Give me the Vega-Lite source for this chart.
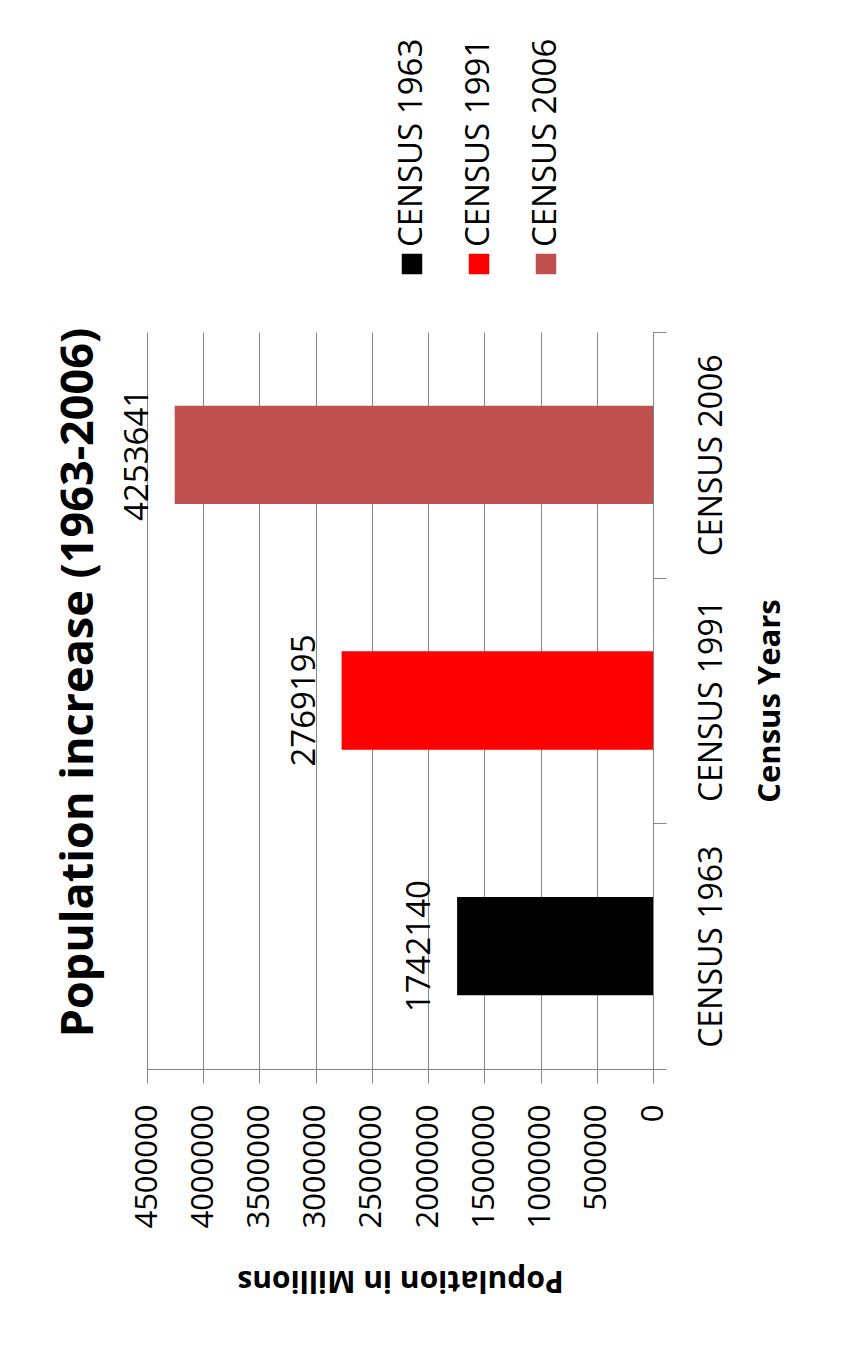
{
  "$schema": "https://vega.github.io/schema/vega-lite/v6.json",
  "padding": {"left": 56, "top": 38, "right": 5, "bottom": 5},
  "bounds": "flush",
  "spacing": 56,
  "background": "#ffffff",
  "config": {"font": "Open Sans", "view": {"stroke": null}},
  "datasets": {
    "census": [
      {"census": "CENSUS 1963", "population": 1742140},
      {"census": "CENSUS 1991", "population": 2769195},
      {"census": "CENSUS 2006", "population": 4253641}
    ]
  },
  "vconcat": [
    {
      "width": 506,
      "height": 24,
      "data": {"name": "census"},
      "encoding": {
        "x": {"field": "census", "type": "nominal", "scale": {"type": "point", "range": [265, 399], "padding": 0}, "axis": null}
      },
      "layer": [
        {
          "mark": {"type": "square", "size": 420, "opacity": 1, "filled": true},
          "encoding": {
            "color": {"field": "census", "type": "nominal", "scale": {"domain": ["CENSUS 1963", "CENSUS 1991", "CENSUS 2006"], "range": ["#000000", "#FF0000", "#C0504D"]}, "legend": null}
          }
        },
        {
          "mark": {"type": "text", "angle": 270, "align": "left", "baseline": "middle", "dx": 17, "fontSize": 33, "color": "#000000"},
          "encoding": {"text": {"field": "census", "type": "nominal"}}
        }
      ]
    },
    {
      "width": 506,
      "height": 737,
      "title": {"text": "Population increase (1963-2006)", "orient": "left", "anchor": "middle", "fontSize": 45, "fontWeight": "bold", "offset": 20, "color": "#000000", "dx": 18},
      "data": {"name": "census"},
      "encoding": {
        "y": {
          "field": "census", "type": "nominal",
          "sort": ["CENSUS 2006", "CENSUS 1991", "CENSUS 1963"],
          "scale": {"paddingInner": 0, "paddingOuter": 0},
          "axis": {
            "orient": "right", "title": "Census Years", "tickBand": "extent", "tickSize": 13,
            "labelAngle": 270, "labelAlign": "center", "labelBaseline": "top", "labelPadding": 30,
            "labelFontSize": 32, "labelColor": "#000000", "labelLimit": 400,
            "titleAngle": 270, "titleBaseline": "top", "titleFontSize": 31, "titleFontWeight": "bold",
            "titlePadding": 28, "titleColor": "#000000",
            "domainColor": "#868686", "tickColor": "#868686", "grid": false
          }
        },
        "x": {
          "field": "population", "type": "quantitative",
          "scale": {"domain": [0, 4500000], "reverse": true, "nice": false},
          "axis": {
            "orient": "bottom", "title": "Population in Millions",
            "values": [0, 500000, 1000000, 1500000, 2000000, 2500000, 3000000, 3500000, 4000000, 4500000],
            "format": "d", "grid": true, "gridColor": "#868686", "tickSize": 14,
            "tickColor": "#868686", "domainColor": "#868686",
            "labelAngle": 270, "labelAlign": "right", "labelBaseline": "middle", "labelPadding": 21,
            "labelFontSize": 31, "labelColor": "#000000", "labelFlush": false, "labelOverlap": false,
            "titleAngle": 180, "titleBaseline": "bottom", "titleFontSize": 30, "titleFontWeight": "bold",
            "titlePadding": 36, "titleColor": "#000000"
          }
        }
      },
      "layer": [
        {
          "mark": {"type": "bar", "height": {"band": 0.4}},
          "encoding": {
            "color": {"field": "census", "type": "nominal", "scale": {"domain": ["CENSUS 1963", "CENSUS 1991", "CENSUS 2006"], "range": ["#000000", "#FF0000", "#C0504D"]}, "legend": null}
          }
        },
        {
          "mark": {"type": "text", "angle": 270, "align": "center", "baseline": "alphabetic", "dy": -27, "fontSize": 33, "color": "#000000"},
          "encoding": {"text": {"field": "population", "type": "quantitative", "format": "d"}}
        }
      ]
    }
  ]
}
